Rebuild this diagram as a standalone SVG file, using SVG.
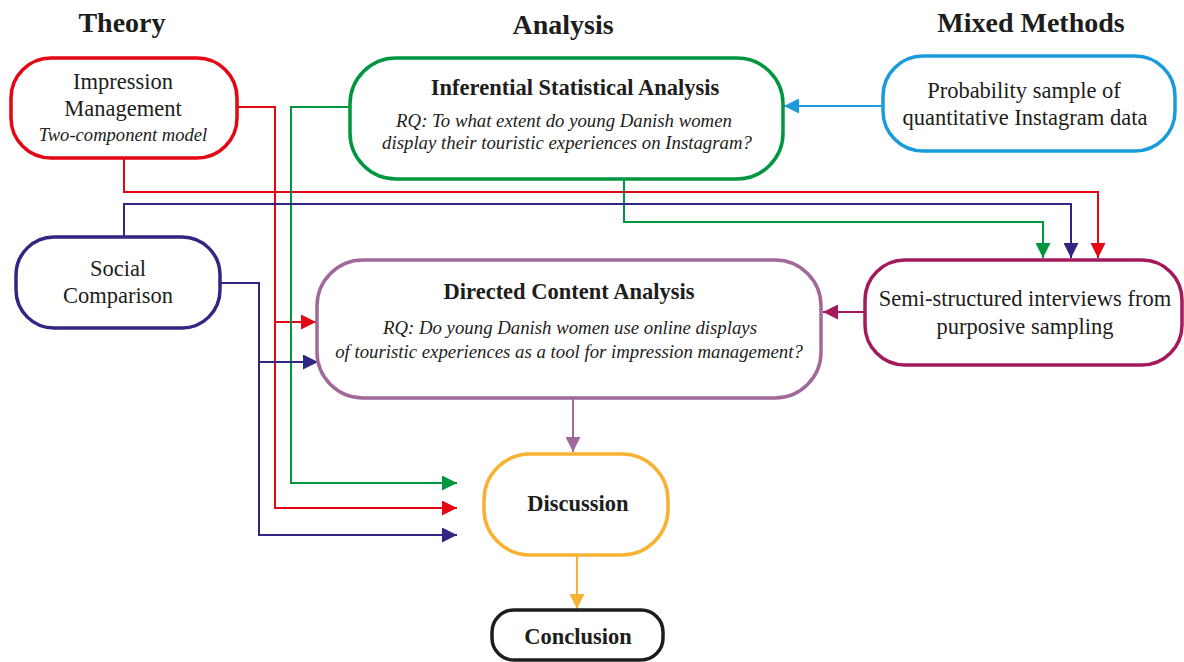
<svg xmlns="http://www.w3.org/2000/svg" width="1184" height="662" viewBox="0 0 1184 662">
<defs>
<style>
.box{fill:#fff;stroke-width:3.5}
.t{font-family:"Liberation Serif","Times New Roman",serif;fill:#1d1d1b;text-anchor:middle}
.n{font-size:22.5px}
.i{font-size:18.8px;font-style:italic}
.sm{font-size:18.6px;font-style:italic}
.b{font-size:22.5px;font-weight:bold}
.h{font-size:28px;font-weight:bold}
.c{fill:none;stroke-width:2}
</style>
<marker id="aRed" viewBox="0 0 10 10" refX="10" refY="5" markerWidth="7.5" markerHeight="7.5" orient="auto" markerUnits="strokeWidth"><path d="M0,0L10,5L0,10z" fill="#e30613"/></marker>
<marker id="aGreen" viewBox="0 0 10 10" refX="10" refY="5" markerWidth="7.5" markerHeight="7.5" orient="auto" markerUnits="strokeWidth"><path d="M0,0L10,5L0,10z" fill="#009640"/></marker>
<marker id="aNavy" viewBox="0 0 10 10" refX="10" refY="5" markerWidth="7.5" markerHeight="7.5" orient="auto" markerUnits="strokeWidth"><path d="M0,0L10,5L0,10z" fill="#312783"/></marker>
<marker id="aBlue" viewBox="0 0 10 10" refX="10" refY="5" markerWidth="7.5" markerHeight="7.5" orient="auto" markerUnits="strokeWidth"><path d="M0,0L10,5L0,10z" fill="#1a9bdb"/></marker>
<marker id="aMag" viewBox="0 0 10 10" refX="10" refY="5" markerWidth="7.5" markerHeight="7.5" orient="auto" markerUnits="strokeWidth"><path d="M0,0L10,5L0,10z" fill="#a3195b"/></marker>
<marker id="aPur" viewBox="0 0 10 10" refX="10" refY="5" markerWidth="7.5" markerHeight="7.5" orient="auto" markerUnits="strokeWidth"><path d="M0,0L10,5L0,10z" fill="#a0699a"/></marker>
<marker id="aOr" viewBox="0 0 10 10" refX="10" refY="5" markerWidth="7.5" markerHeight="7.5" orient="auto" markerUnits="strokeWidth"><path d="M0,0L10,5L0,10z" fill="#f7b233"/></marker>
</defs>
<rect width="1184" height="662" fill="#fff"/>

<g id="headers">
<text class="t h" x="122" y="32">Theory</text>
<text class="t h" x="563" y="34">Analysis</text>
<text class="t h" x="1031" y="32">Mixed Methods</text>
</g>

<g id="connectors">
<path class="c" stroke="#e30613" d="M237,107H275V322H316" marker-end="url(#aRed)"/>
<path class="c" stroke="#e30613" d="M275,322V508H457" marker-end="url(#aRed)"/>
<path class="c" stroke="#e30613" d="M124,158V192H1098V258" marker-end="url(#aRed)"/>
<path class="c" stroke="#009640" d="M350,107H291V483H457" marker-end="url(#aGreen)"/>
<path class="c" stroke="#009640" d="M624,179V222H1043V258" marker-end="url(#aGreen)"/>
<path class="c" stroke="#312783" d="M124,236V204H1071V258" marker-end="url(#aNavy)"/>
<path class="c" stroke="#312783" d="M220,283H259V362H318" marker-end="url(#aNavy)"/>
<path class="c" stroke="#312783" d="M259,362V535H457" marker-end="url(#aNavy)"/>
<path class="c" stroke="#1a9bdb" d="M883,106H784" marker-end="url(#aBlue)"/>
<path class="c" stroke="#a3195b" d="M865,312H823" marker-end="url(#aMag)"/>
<path class="c" stroke="#a0699a" d="M573,399V452" marker-end="url(#aPur)"/>
<path class="c" stroke="#f7b233" d="M577,556V609" marker-end="url(#aOr)"/>
</g>

<g id="impression">
<rect class="box" x="11" y="58" width="226" height="100" rx="40" stroke="#e30613"/>
<text class="t n" x="123" y="89">Impression</text>
<text class="t n" x="123" y="116">Management</text>
<text class="t sm" x="123" y="141">Two-component model</text>
</g>

<g id="inferential">
<rect class="box" x="350" y="58" width="433" height="121" rx="46" stroke="#009640"/>
<text class="t b" x="575" y="95">Inferential Statistical Analysis</text>
<text class="t i" x="564" y="127">RQ: To what extent do young Danish women</text>
<text class="t i" x="567" y="149">display their touristic experiences on Instagram?</text>
</g>

<g id="probability">
<rect class="box" x="883" y="56" width="292" height="95" rx="40" stroke="#1a9bdb"/>
<text class="t n" x="1024" y="98">Probability sample of</text>
<text class="t n" x="1025" y="125">quantitative Instagram data</text>
</g>

<g id="social">
<rect class="box" x="16" y="237" width="204" height="91" rx="38" stroke="#312783"/>
<text class="t n" x="118" y="276">Social</text>
<text class="t n" x="118" y="303">Comparison</text>
</g>

<g id="directed">
<rect class="box" x="317" y="260" width="504" height="138" rx="46" stroke="#a0699a"/>
<text class="t b" x="569" y="299">Directed Content Analysis</text>
<text class="t i" x="570" y="334">RQ: Do young Danish women use online displays</text>
<text class="t i" x="569" y="358">of touristic experiences as a tool for impression management?</text>
</g>

<g id="semi">
<rect class="box" x="865" y="260" width="317" height="105" rx="40" stroke="#a3195b"/>
<text class="t n" x="1025" y="306">Semi-structured interviews from</text>
<text class="t n" x="1025" y="334">purposive sampling</text>
</g>

<g id="discussion">
<rect class="box" x="484" y="454" width="184" height="101" rx="46" stroke="#f7b233"/>
<text class="t b" x="578" y="511">Discussion</text>
</g>

<g id="conclusion">
<rect class="box" x="492" y="610" width="171" height="50" rx="22" stroke="#1d1d1b"/>
<text class="t b" x="578" y="644">Conclusion</text>
</g>
</svg>
